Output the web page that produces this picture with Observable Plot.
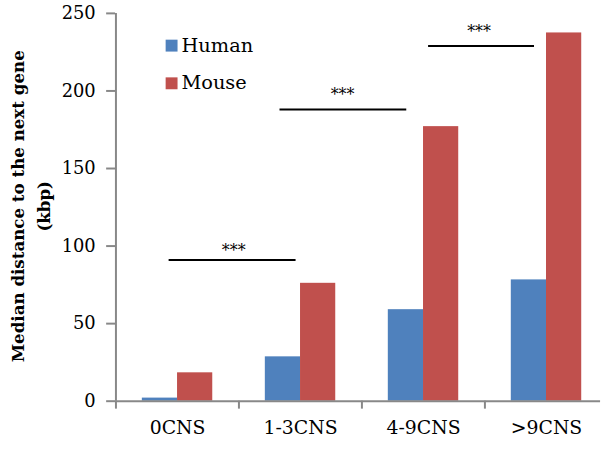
<!DOCTYPE html>
<html>
<head>
<meta charset="utf-8">
<script src="https://cdn.jsdelivr.net/npm/d3@7"></script>
<script src="https://cdn.jsdelivr.net/npm/@observablehq/plot@0.6"></script>
<style>
  html, body { margin: 0; padding: 0; background: #fff; overflow: hidden; }
  #chart { width: 608px; height: 450px; overflow: hidden; }
</style>
</head>
<body>
<div id="chart"></div>
<script>
// Median distance (kbp) from a gene to its neighbour, grouped by number of CNSs
const categories = ["0CNS", "1-3CNS", "4-9CNS", ">9CNS"];
const species = ["Human", "Mouse"];
const colors = ["#4F81BD", "#C0504D"];
const human = [2, 28.6, 59, 78.2];
const mouse = [18.3, 76, 177, 237.4];
const yTicks = [0, 50, 100, 150, 200, 250];

// significance brackets between neighbouring groups
const brackets = [
  {from: "0CNS", to: "1-3CNS", y: 91, label: "***"},
  {from: "1-3CNS", to: "4-9CNS", y: 188, label: "***"},
  {from: "4-9CNS", to: ">9CNS", y: 229, label: "***"}
];
// placement tweaks for each bracket: [insetLeft, insetRight, label dx, label dy]
const bracketStyle = [
  [27, 40, 56.6, -9],
  [14.8, 52.4, 42.4, -15],
  [40.6, 47.6, 56, -14]
];

const rows = categories.flatMap((c, i) => [
  {category: c, species: "Human", value: human[i]},
  {category: c, species: "Mouse", value: mouse[i]}
]);

const axisGray = "#888888";
const halfStep = 62.1;
const halfBand = 35.5;

const bracketMarks = brackets.flatMap((b, i) => {
  const [l, r, dx, dy] = bracketStyle[i];
  return [
    Plot.ruleY([b], {x1: "from", x2: "to", y: "y", insetLeft: l, insetRight: r, stroke: "#000", strokeWidth: 2}),
    Plot.text([b], {x: "from", y: "y", text: "label", dx, dy, fontSize: 16, fill: "#000"})
  ];
});

const chart = Plot.plot({
  width: 613,
  height: 450,
  marginLeft: 116,
  marginRight: 0,
  marginTop: 13,
  marginBottom: 46,
  style: {fontFamily: "DejaVu Serif", fontSize: "18px", color: "#000", background: "#fff"},
  x: {domain: categories, paddingInner: 0.428, paddingOuter: 0.214, label: null},
  y: {domain: [0, 250], label: null},
  color: {domain: species, range: colors},
  marks: [
    Plot.axisY({ticks: yTicks, tickSize: 9, tickPadding: 11, stroke: axisGray, strokeWidth: 2, fill: "#000", label: null}),
    Plot.axisX({tickSize: 0, tickPadding: 20, fill: "#000", fontSize: 19, label: null}),
    Plot.barY(rows.filter(d => d.species === "Human"), {x: "category", y: "value", fill: "species", insetRight: halfBand}),
    Plot.barY(rows.filter(d => d.species === "Mouse"), {x: "category", y: "value", fill: "species", insetLeft: halfBand}),
    // y axis line and category boundary ticks
    Plot.ruleX([categories[0]], {x: d => d, dx: -halfStep, stroke: axisGray, strokeWidth: 2}),
    Plot.ruleX(categories, {x: d => d, y1: 0, y2: 0, dx: -halfStep, insetBottom: -8, stroke: axisGray, strokeWidth: 2}),
    Plot.ruleY([0], {stroke: axisGray, strokeWidth: 2, insetRight: 8}),
    ...bracketMarks
  ]
});

const svg = d3.select(chart);

// legend
const legend = svg.append("g")
  .attr("font-family", "DejaVu Serif")
  .attr("font-size", 19.5)
  .attr("text-anchor", "start");
species.forEach((s, i) => {
  const g = legend.append("g").attr("transform", `translate(167, ${40 + i * 38})`);
  g.append("rect").attr("width", 12).attr("height", 12).attr("fill", colors[i]);
  g.append("text").attr("x", 16).attr("y", 12).attr("fill", "#000").text(s);
});

// two-line y axis title
const title = svg.append("text")
  .attr("transform", "translate(24, 208) rotate(-90)")
  .attr("text-anchor", "middle")
  .attr("font-family", "DejaVu Serif")
  .attr("font-weight", "bold")
  .attr("font-size", 16.8)
  .attr("fill", "#000");
title.append("tspan").attr("x", 0).attr("y", 0).text("Median distance to the next gene");
title.append("tspan").attr("x", 0).attr("y", 26).text("(kbp)");

document.getElementById("chart").appendChild(chart);
</script>
</body>
</html>
